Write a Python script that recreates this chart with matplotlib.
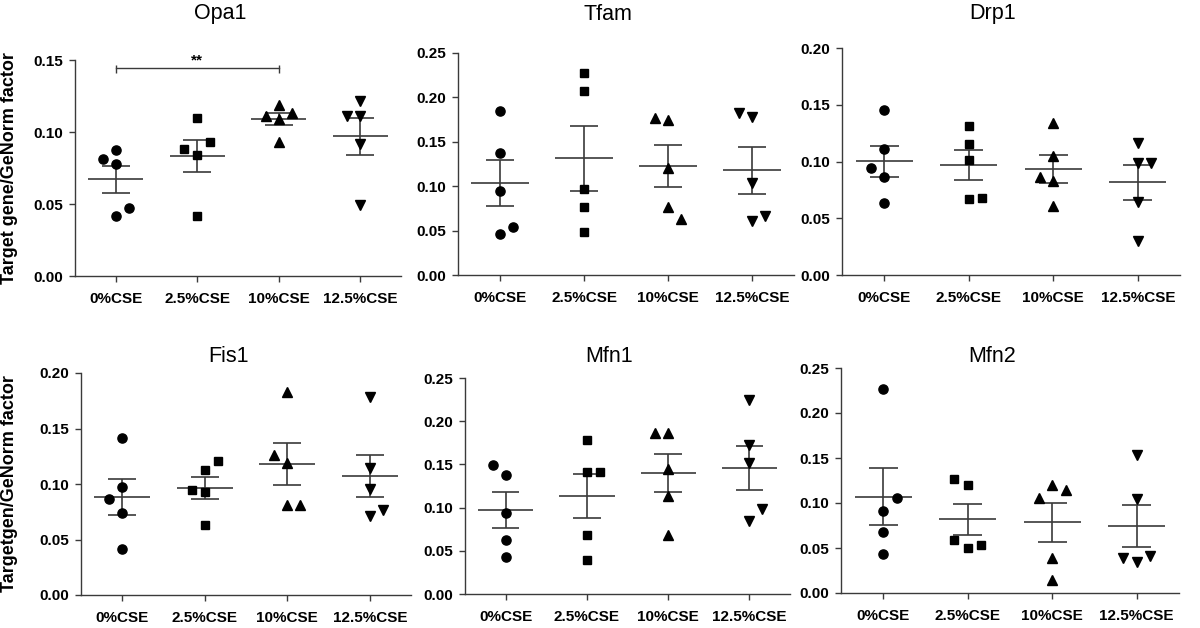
import numpy as np
import matplotlib
matplotlib.use("Agg")
import matplotlib.pyplot as plt

plt.rcParams['font.family'] = ['Liberation Sans', 'DejaVu Sans']

groups = ['0%CSE', '2.5%CSE', '10%CSE', '12.5%CSE']
genes = ['Opa1', 'Tfam', 'Drp1', 'Fis1', 'Mfn1', 'Mfn2']
markers = ['o', 's', '^', 'v']

# target gene / GeNorm factor, five replicates per group
opa1 = [[0.0877, 0.0810, 0.0778, 0.0419, 0.0472],
        [0.1097, 0.0840, 0.0882, 0.0933, 0.0419],
        [0.1187, 0.1089, 0.1110, 0.1130, 0.0933],
        [0.1215, 0.1108, 0.1111, 0.0917, 0.0495]]
tfam = [[0.1845, 0.1374, 0.0947, 0.0460, 0.0539],
        [0.2272, 0.2077, 0.0966, 0.0763, 0.0483],
        [0.1751, 0.1763, 0.1209, 0.0763, 0.0632],
        [0.1781, 0.1826, 0.1033, 0.0603, 0.0659]]
drp1 = [[0.1452, 0.1113, 0.0863, 0.0946, 0.0630],
        [0.1317, 0.1158, 0.1016, 0.0672, 0.0680],
        [0.1340, 0.1049, 0.0828, 0.0863, 0.0604],
        [0.1166, 0.0984, 0.0990, 0.0642, 0.0297]]
fis1 = [[0.1417, 0.0974, 0.0740, 0.0863, 0.0415],
        [0.1122, 0.1203, 0.0926, 0.0947, 0.0632],
        [0.1829, 0.0812, 0.0812, 0.1185, 0.1263],
        [0.1783, 0.1143, 0.0956, 0.0710, 0.0767]]
mfn1 = [[0.1381, 0.1497, 0.0934, 0.0629, 0.0432],
        [0.1782, 0.1412, 0.1412, 0.0687, 0.0394],
        [0.1863, 0.1863, 0.1447, 0.1138, 0.0687],
        [0.2245, 0.1728, 0.1516, 0.0841, 0.0984]]
mfn2 = [[0.2263, 0.0910, 0.1058, 0.0677, 0.0429],
        [0.1202, 0.1268, 0.0499, 0.0529, 0.0592],
        [0.1202, 0.1146, 0.1054, 0.0388, 0.0148],
        [0.1535, 0.1047, 0.0344, 0.0407, 0.0392]]
ymax = [0.15, 0.25, 0.20, 0.20, 0.25, 0.25]
ylabels = ['Target gene/GeNorm factor', 'Targetgen/GeNorm factor']
sig_pair = (0, 2)
sig_label = '**'
sig_y = 0.1442

data = [opa1, tfam, drp1, fis1, mfn1, mfn2]

W, H = 1200, 628
# axes boxes in pixels: left, top, right, bottom
boxes = [(75, 60, 401, 276), (458, 53, 794, 275), (842, 48, 1180, 275),
         (81, 373, 411, 595), (465, 378, 790, 594), (841, 368, 1179, 593)]
title_y = [14, 14, 14, 356, 356, 356]
first_side = [-1, 1, -1, -1, -1, 1]   # side used first when dots overlap

line_c = '#3a3a3a'
fig = plt.figure(figsize=(12, 6.28), dpi=100)


def swarm_x(ax, x0, vals, state, thr=13.8, step=0.16):
    ypx = ax.transData.transform(np.column_stack([np.zeros(len(vals)), vals]))[:, 1]
    placed = []
    xs = []
    for y in ypx:
        slot = 0
        if any(s == 0 and abs(y - py) < thr for s, py in placed):
            side = state[0]
            for s in [side, -side, 2 * side, -2 * side]:
                if not any(ps == s and abs(y - py) < thr for ps, py in placed):
                    slot = s
                    break
            state[0] = -state[0]
        placed.append((slot, y))
        xs.append(x0 + slot * step)
    return xs


for i, (gene, vals) in enumerate(zip(genes, data)):
    l, t, r, b = boxes[i]
    ax = fig.add_axes([l / W, 1 - b / H, (r - l) / W, (b - t) / H])
    ax.set_xlim(-0.5, 3.5)
    ax.set_ylim(0, ymax[i])
    state = [first_side[i]]
    for j, g in enumerate(vals):
        g = np.array(g)
        xs = swarm_x(ax, j, g, state)
        ax.plot(xs, g, linestyle='none', marker=markers[j], color='black',
                markersize=6.2 if markers[j] == 's' else 6.6, clip_on=False, zorder=3)
        m = g.mean()
        sem = g.std(ddof=1) / np.sqrt(len(g))
        ax.hlines(m, j - 0.34, j + 0.34, color=line_c, lw=1.2, zorder=2)
        ax.hlines([m - sem, m + sem], j - 0.17, j + 0.17, color=line_c, lw=1.2, zorder=2)
        ax.vlines(j, m - sem, m + sem, color=line_c, lw=1.2, zorder=2)

    ax.spines['top'].set_visible(False)
    ax.spines['right'].set_visible(False)
    for s in ['left', 'bottom']:
        ax.spines[s].set_color(line_c)
        ax.spines[s].set_linewidth(1.0)
    ax.set_xticks(range(len(groups)))
    ax.set_xticklabels(groups)
    yt = np.arange(0, ymax[i] + 1e-9, 0.05)
    ax.set_yticks(yt)
    ax.set_yticklabels(['%.2f' % v for v in yt])
    ax.tick_params(axis='both', length=4.5, width=1.0, color=line_c, labelsize=11)
    ax.tick_params(axis='x', pad=7)
    ax.tick_params(axis='y', pad=4)
    for lab in ax.get_xticklabels() + ax.get_yticklabels():
        lab.set_fontweight('bold')

    fig.text(((l + r) / 2 - 18) / W, 1 - title_y[i] / H, gene, ha='center',
             va='center', fontsize=15.5)

    if i == 0:
        a, c = sig_pair
        ax.plot([a, c], [sig_y, sig_y], color=line_c, lw=1.0, clip_on=False)
        ax.vlines([a, c], sig_y - 0.0035, sig_y + 0.002, color=line_c, lw=1.0, clip_on=False)
        ax.text((a + c) / 2, sig_y + 0.0008, sig_label, ha='center', va='bottom',
                fontsize=11, fontweight='bold')

for k, lab in enumerate(ylabels):
    l, t, r, b = boxes[3 * k]
    fig.text(10 / W, 1 - ((t + b) / 2) / H, lab, rotation=90, ha='center',
             va='center', fontsize=13, fontweight='bold')

fig.savefig('out.png', dpi=100)
